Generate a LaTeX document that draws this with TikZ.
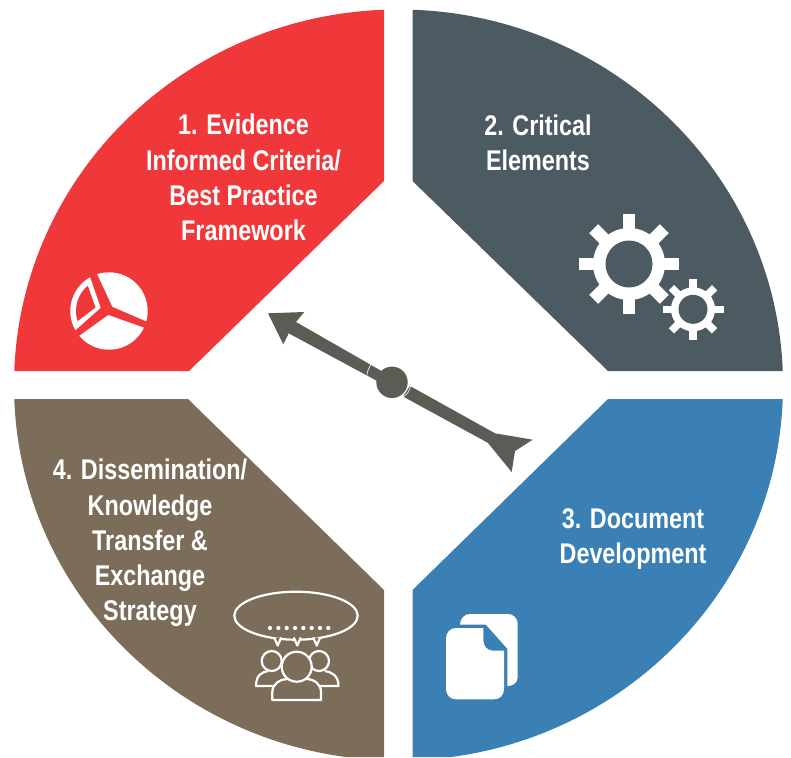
\documentclass[tikz,border=0pt]{standalone}
\usepackage{fontspec}
\setmainfont{Liberation Sans}[FakeStretch=0.82]
\definecolor{evidencered}{HTML}{F0383A}
\definecolor{elementslate}{HTML}{4C5B62}
\definecolor{documentblue}{HTML}{3B80B4}
\definecolor{transferbrown}{HTML}{7C6D5A}
\definecolor{arrowgrey}{HTML}{5C5C55}

\begin{document}
\begin{tikzpicture}[%
x=1pt, y=-1pt,
sectorlabel/.style={text=white, align=center, inner sep=0pt, font=\bfseries\fontsize{28.5}{35.3}\selectfont},
iconline/.style={draw=white, line width=2.2pt, line join=round},
iconfill/.style={fill=white, draw=none},
]

\useasboundingbox (0,0) rectangle (791,757);

% the four sectors
\begin{scope}
\clip (398.5,385) ellipse [x radius=384.5pt, y radius=375.5pt];
\fill[evidencered] (384,0)--(384,181)--(189,371)--(0,371)--(0,0)--cycle;
\fill[elementslate] (412.5,0)--(412.5,181)--(608,371)--(791,371)--(791,0)--cycle;
\fill[documentblue] (412.5,757)--(412.5,590)--(608,399)--(791,399)--(791,757)--cycle;
\fill[transferbrown] (384,757)--(384,590)--(188,399)--(0,399)--(0,757)--cycle;
\end{scope}

\node[sectorlabel](evidence) at (243.5,177.5){1. Evidence\\Informed Criteria/\\Best Practice\\Framework};
\node[sectorlabel](critical) at (538,142.5){2. Critical\\Elements};
\node[sectorlabel](document) at (633,539){3. Document\\Development};
\node[sectorlabel](dissemination) at (150,543){4. Dissemination/\\Knowledge\\Transfer \&\\Exchange\\Strategy};

% centre arrow
\fill[arrowgrey] (268,313.3)--(304.3,312)--(296,322)--(392,377)--(392,389)--(288.7,333.3)--(283.3,344.3)--cycle;
\fill[arrowgrey] (392,382.3) circle (15.7);
\fill[arrowgrey] (410,386)--(495,433.3)--(532.7,439.7)--(515,451)--(511.7,472)--(487.7,442.7)--(403,396.5)--cycle;
\draw[white, line width=.6pt] (371.4,364) to[bend right=15] (366.8,376.2);
\draw[white, line width=.6pt] (410.7,385.5) to[bend left=25] (403.3,396.7);

% pie chart
\begin{scope}
\clip (112.3,306.7)--(157,326)--(157,260)--(90.7,260)--cycle;
\fill[white] (109,311) circle (38.7);
\end{scope}
\begin{scope}
\clip (108.3,315)--(158,332.7)--(158,360)--(64.4,360)--(64.4,346.5)--cycle;
\fill[white] (109,311) circle (38.7);
\end{scope}
\begin{scope}
\clip (100.7,307.7)--(86.8,268)--(60,268)--(60,336.7)--(68.2,336.7)--cycle;
\fill[white] (109,311) circle (38.7);
\end{scope}
\begin{scope}
\clip (95.5,307.5)--(84,275)--(60,275)--(60,325)--(72.4,325)--cycle;
\fill[evidencered] (109,311) circle (33);
\end{scope}

% gears
\foreach \gx/\gy/\gin/\gout/\gtip/\gw in {629/264/23.5/36/50/12.7, 693/309.3/14.5/22/30.5/7.5}{
  \foreach \a in {0,45,...,315}{
    \draw[white, line width=\gw pt] (\gx,\gy)--++(\a:\gtip);
  }
  \fill[white] (\gx,\gy) circle (\gout);
  \fill[elementslate] (\gx,\gy) circle (\gin);
}

% pages
\fill[iconfill] (460,624.7) .. controls (460,618.5) and (464.5,614) .. (470,614)--(508,614) .. controls (513.5,614) and (517.7,618.5) .. (517.7,624)--(517.7,677) .. controls (517.7,682) and (513.5,686) .. (508,686)--(507.3,686)--(507.3,648.7)--(486,624.7)--cycle;
\fill[iconfill] (446,638) .. controls (446,632.5) and (450.5,628) .. (456,628)--(483.3,628)--(483.3,640) .. controls (483.3,646) and (487,650.7) .. (493.3,650.7)--(504,650.7)--(504,689) .. controls (504,695) and (500,699.3) .. (494,699.3)--(456,699.3) .. controls (450.5,699.3) and (446,695) .. (446,689)--cycle;

% speech bubble and people
\draw[iconline] (296,615.7) ellipse [x radius=61.7pt, y radius=24pt];
\foreach \t in {277.7,297.3,316.7}{
  \draw[iconline, fill=transferbrown] (\t-3.5,637.5)--(\t,645.5)--(\t+3.5,637.5);
}
\foreach \d in {0,...,7}{
  \fill[white] (270+\d*8.33,628) circle (2.1);
}
\draw[iconline] (273,686)--(256,686) .. controls (256,675) and (262,672) .. (268,671);
\draw[iconline] (320,686)--(338.5,686) .. controls (338.5,675) and (331,672) .. (325,671);
\draw[iconline, fill=transferbrown] (271.7,661) circle (10);
\draw[iconline, fill=transferbrown] (319,661) circle (10);
\draw[iconline, fill=transferbrown] (272.3,700)--(272.3,692) .. controls (272.3,684) and (280,679) .. (287,679)--(306,679) .. controls (314,679) and (321,684) .. (321,692)--(321,700)--cycle;
\draw[iconline, fill=transferbrown] (296.7,666.7) circle (15);

\end{tikzpicture}
\end{document}
